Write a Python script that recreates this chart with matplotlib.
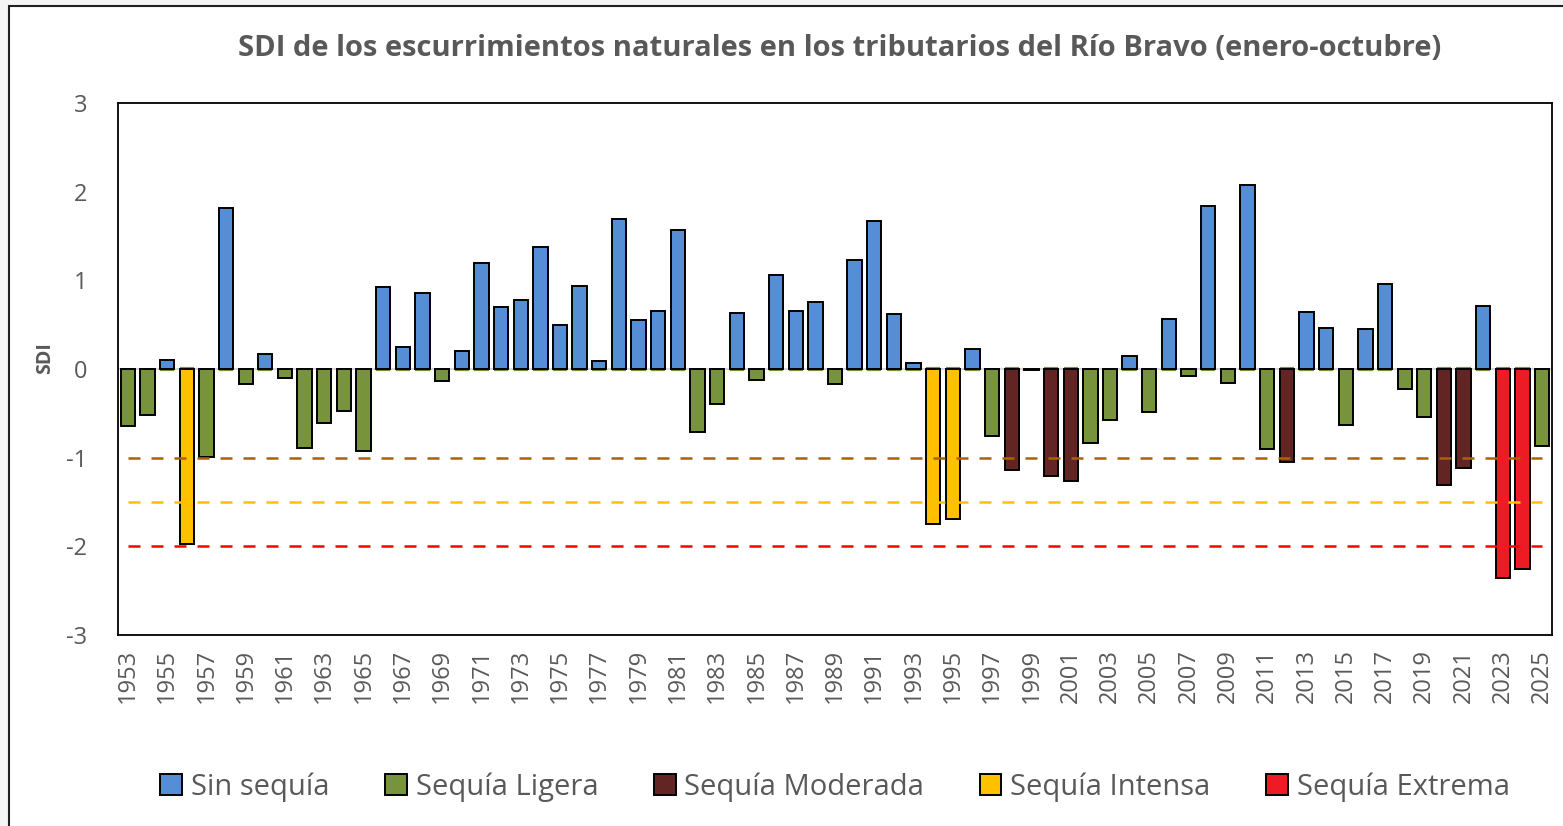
import numpy as np
import matplotlib.pyplot as plt
from matplotlib.patches import Patch, Rectangle

plt.rcParams['font.family'] = ['Open Sans', 'DejaVu Sans']
plt.rcParams['axes.unicode_minus'] = False

# datos
anios = list(range(1953, 2026))
sdi = [-0.64, -0.52, 0.10, -1.97, -0.99, 1.82, -0.17, 0.17, -0.10, -0.89,
       -0.61, -0.47, -0.92, 0.93, 0.25, 0.86, -0.13, 0.20, 1.19, 0.70,
       0.78, 1.38, 0.50, 0.94, 0.09, 1.69, 0.55, 0.65, 1.57, -0.71,
       -0.40, 0.63, -0.12, 1.06, 0.65, 0.76, -0.17, 1.23, 1.67, 0.62,
       0.07, -1.75, -1.69, 0.22, -0.75, -1.14, -0.01, -1.21, -1.26, -0.83,
       -0.57, 0.15, -0.49, 0.56, -0.08, 1.84, -0.16, 2.08, -0.90, -1.05,
       0.64, 0.46, -0.63, 0.45, 0.96, -0.22, -0.54, -1.31, -1.12, 0.71,
       -2.36, -2.26, -0.87]
# 0 sin sequia, 1 ligera, 2 moderada, 3 intensa, 4 extrema
clase = [1, 1, 0, 3, 1, 0, 1, 0, 1, 1,
         1, 1, 1, 0, 0, 0, 1, 0, 0, 0,
         0, 0, 0, 0, 0, 0, 0, 0, 0, 1,
         1, 0, 1, 0, 0, 0, 1, 0, 0, 0,
         0, 3, 3, 0, 1, 2, 1, 2, 2, 1,
         1, 0, 1, 0, 1, 0, 1, 0, 1, 2,
         0, 0, 1, 0, 0, 1, 1, 2, 2, 0,
         4, 4, 1]
nombres = ['Sin sequía', 'Sequía Ligera', 'Sequía Moderada', 'Sequía Intensa', 'Sequía Extrema']
colores = ['#558ED5', '#77933C', '#632523', '#FFC000', '#ED1C24']
umbrales = [-1.0, -1.5, -2.0]
col_umbral = ['#A86400', '#FFC000', '#FF0000']

gris = '#595959'
W, H = 1563, 826
fig = plt.figure(figsize=(W / 100, H / 100), dpi=100)
fig.patch.set_facecolor('#F5F5F5')
fig.patches.append(Rectangle((9 / W, -0.1), 1.2, 1 - 6 / H + 0.1, transform=fig.transFigure,
                             facecolor='white', edgecolor='#202020', lw=1.5, zorder=-5))

ax = fig.add_axes([118 / W, 1 - 635 / H, (1552 - 118) / W, (635 - 103) / H])
ax.set_facecolor('white')
x = np.arange(len(anios))
v = np.array(sdi)
c = np.array(clase)
ancho = 0.73

ax.axhline(0, color='#D9D9D9', lw=1.5, zorder=1)
for k in range(5):
    m = c == k
    ax.bar(x[m], v[m], width=ancho, color=colores[k], edgecolor='black', lw=1.4, zorder=3)
# serie ligera con valor cero
m0 = c != 1
ax.hlines(np.zeros(m0.sum()), x[m0] - ancho / 2, x[m0] + ancho / 2, color=colores[1], lw=3, zorder=2)

for u, cu in zip(umbrales, col_umbral):
    ax.plot(x, [u] * len(x), color=cu, lw=1.8, dashes=(4.8, 4.4), zorder=4)

ax.set_xlim(-0.5, len(anios) - 0.5)
ax.set_ylim(-3, 3)
ax.set_yticks(range(-3, 4))
ax.set_xticks(x[::2])
ax.set_xticklabels([str(a) for a in anios[::2]], rotation=90)
ax.tick_params(length=0, labelsize=17, labelcolor=gris)
ax.tick_params(axis='y', pad=22)
ax.tick_params(axis='x', pad=10)
for s in ax.spines.values():
    s.set_linewidth(1.3)
    s.set_color('black')
fig.text(45 / W, 1 - 358 / H, 'SDI', rotation=90, ha='center', va='center',
         fontsize=14, fontweight='bold', color=gris)

fig.text(840 / W, 1 - 48 / H, 'SDI de los escurrimientos naturales en los tributarios del Río Bravo (enero-octubre)',
         ha='center', va='center', fontsize=21, fontweight='bold', color=gris)

handles = [Patch(facecolor=colores[k], edgecolor='black', lw=1.4) for k in range(5)]
leg = fig.legend(handles, nombres, loc='center', bbox_to_anchor=(835 / W, 1 - 787 / H), ncol=5,
                 frameon=False, fontsize=21, handlelength=0.75, handleheight=0.75,
                 handletextpad=0.3, columnspacing=1.9)
for t in leg.get_texts():
    t.set_color(gris)

fig.savefig('out.png', dpi=100, facecolor=fig.get_facecolor())
